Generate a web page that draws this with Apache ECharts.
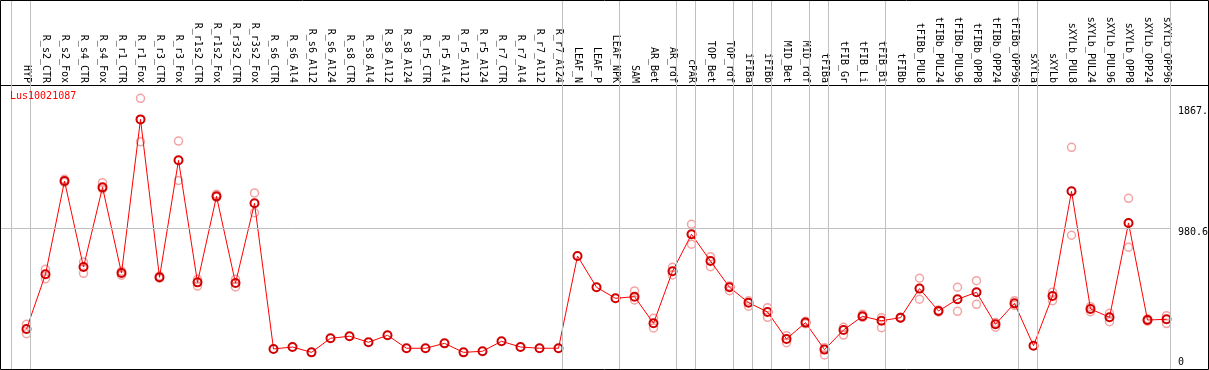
<!DOCTYPE html>
<html><head><meta charset="utf-8">
<script src="https://cdn.jsdelivr.net/npm/echarts@6/dist/echarts.min.js"></script>
<style>html,body{margin:0;padding:0;background:#fff}#c{width:1209px;height:370px}</style>
</head><body><div id="c"></div>
<script>
const categories = ['HYP','R_s2_CTR','R_s2_Fox','R_s4_CTR','R_s4_Fox','R_r1_CTR','R_r1_Fox','R_r3_CTR','R_r3_Fox','R_r1s2_CTR','R_r1s2_Fox','R_r3s2_CTR','R_r3s2_Fox','R_s6_CTR','R_s6_Al4','R_s6_Al12','R_s6_Al24','R_s8_CTR','R_s8_Al4','R_s8_Al12','R_s8_Al24','R_r5_CTR','R_r5_Al4','R_r5_Al12','R_r5_Al24','R_r7_CTR','R_r7_Al4','R_r7_Al12','R_r7_Al24','LEAF_N','LEAF_P','LEAF_NPK','SAM','AR_Bet','AR_rdf','cPAR','TOP_Bet','TOP_rdf','iFIBa','iFIBb','MID_Bet','MID_rdf','tFIBa','tFIB_Gr','tFIB_Li','tFIB_Bi','tFIBb','tFIBb_PUL8','tFIBb_PUL24','tFIBb_PUL96','tFIBb_OPP8','tFIBb_OPP24','tFIBb_OPP96','sXYLa','sXYLb','sXYLb_PUL8','sXYLb_PUL24','sXYLb_PUL96','sXYLb_OPP8','sXYLb_OPP24','sXYLb_OPP96'];
const meanValues = [243,644,1327,697,1281,653,1779,622,1479,585,1215,580,1164,97,111,72,175,190,146,197,102,102,138,72,80,153,111,102,102,778,549,468,480,285,666,937,741,549,436,368,170,290,92,236,336,304,326,539,375,461,512,278,431,121,485,1252,390,329,1020,309,314];
const repHigh = [278,681,1340,734,1315,666,1933,631,1620,607,1230,607,1240,null,null,null,null,null,null,null,null,null,null,null,null,null,null,null,null,null,null,null,522,321,695,1010,773,559,450,399,194,300,106,256,351,326,330,615,382,549,597,290,451,null,512,1574,407,358,1201,318,341];
const repLow = [209,612,1318,651,1269,637,1615,615,1332,558,1208,551,1095,null,null,null,null,null,null,null,null,null,null,null,null,null,null,null,null,null,null,null,456,251,639,864,700,524,410,329,143,282,53,199,329,253,322,461,368,373,424,256,417,null,451,930,370,297,842,300,283];
const groupEnds = [-1,0,28,31,34,35,37,38,39,41,42,45,52,53,60];
const yTickValues = [0, 980.6, 1867];
const yTickLabels = ['0', '980.6', '1867.'];
const gridLineValues = [980.6];
const seriesName = 'Lus10021087';

const X0 = 26.5, STEP = 19, SEP_OFFSET = 4 / 19;
const pxToVal = px => (px - X0) / STEP;
const FONT = 'DejaVu Sans Mono';
const GRAY = '#c0c0c0';

const sepData = groupEnds.map(g => ({ xAxis: g + SEP_OFFSET }));
const repData = [];
categories.forEach((c, i) => {
  if (repHigh[i] != null) repData.push([i, repHigh[i]]);
  if (repLow[i] != null) repData.push([i, repLow[i]]);
});

function yLabel(v) {
  let k = 0;
  yTickValues.forEach((t, j) => { if (Math.abs(t - v) < Math.abs(yTickValues[k] - v)) k = j; });
  return k === 0 ? '{z|' + yTickLabels[k] + '}' : '{a|' + yTickLabels[k] + '}';
}

const chart = echarts.init(document.getElementById('c'));
chart.setOption({
  animation: false,
  backgroundColor: '#fff',
  title: { text: seriesName, left: 10, top: 91, padding: 0,
    textStyle: { color: '#ff0000', fontFamily: FONT, fontSize: 10, fontWeight: 'normal' } },
  grid: [
    { left: 0, top: 0, width: 1208, height: 85, outerBoundsMode: 'none', containLabel: false },
    { left: 0, top: 85, width: 1171, height: 284, outerBoundsMode: 'none', containLabel: false }
  ],
  xAxis: [
    { gridIndex: 0, type: 'value', min: pxToVal(0), max: pxToVal(1208), position: 'bottom',
      axisLine: { show: true, onZero: false, lineStyle: { color: '#000', width: 1 } },
      axisTick: { show: false }, axisLabel: { show: false }, splitLine: { show: false } },
    { gridIndex: 1, type: 'value', min: pxToVal(0), max: pxToVal(1171), position: 'top',
      axisLine: { show: false, onZero: false }, axisTick: { show: false }, splitLine: { show: false },
      axisLabel: { customValues: categories.map((c, i) => i), formatter: v => categories[Math.round(v)] || '',
        rotate: 90, margin: 2, fontFamily: FONT, fontSize: 10, color: '#000' } }
  ],
  yAxis: [
    { gridIndex: 0, type: 'value', min: 0, max: 1, show: false, axisLine: { onZero: false } },
    { gridIndex: 1, type: 'value', min: -50, max: 2031, position: 'right',
      axisLine: { show: false, onZero: false }, axisTick: { show: false }, splitLine: { show: false },
      axisLabel: { customValues: yTickValues, formatter: yLabel,
        margin: 7, verticalAlign: 'middle', align: 'left', fontFamily: FONT, fontSize: 10, color: '#000',
        rich: {
          a: { fontFamily: FONT, fontSize: 10, color: '#000', lineHeight: 10, padding: [9, 0, 0, 0] },
          z: { fontFamily: FONT, fontSize: 10, color: '#000', lineHeight: 10, padding: [0, 0, 0, 0] }
        } } }
  ],
  series: [
    { type: 'line', xAxisIndex: 0, yAxisIndex: 0, data: [], silent: true, z: 1,
      markLine: { silent: true, symbol: 'none', label: { show: false }, animation: false,
        lineStyle: { color: GRAY, width: 1, type: 'solid' }, data: sepData } },
    { type: 'line', xAxisIndex: 1, yAxisIndex: 1, data: [], silent: true, z: 1,
      markLine: { silent: true, symbol: 'none', label: { show: false }, animation: false,
        lineStyle: { color: GRAY, width: 1, type: 'solid' },
        data: sepData.concat(gridLineValues.map(v => ({ yAxis: v }))) } },
    { name: seriesName + ' replicates', type: 'scatter', xAxisIndex: 1, yAxisIndex: 1, data: repData,
      symbol: 'circle', symbolSize: 8, z: 2,
      itemStyle: { color: 'rgba(0,0,0,0)', borderColor: '#f08c8c', borderWidth: 1.5 } },
    { name: seriesName, type: 'line', xAxisIndex: 1, yAxisIndex: 1, data: meanValues.map((v, i) => [i, v]),
      symbol: 'circle', symbolSize: 8, showAllSymbol: true, z: 3,
      lineStyle: { color: '#ff0000', width: 1 },
      itemStyle: { color: 'rgba(0,0,0,0)', borderColor: '#d00000', borderWidth: 2 } }
  ],
  graphic: [{ type: 'rect', silent: true, z: 100,
    shape: { x: 0.5, y: 0.5, width: 1208, height: 369 },
    style: { fill: 'none', stroke: '#000', lineWidth: 1 } }]
});
</script></body></html>
